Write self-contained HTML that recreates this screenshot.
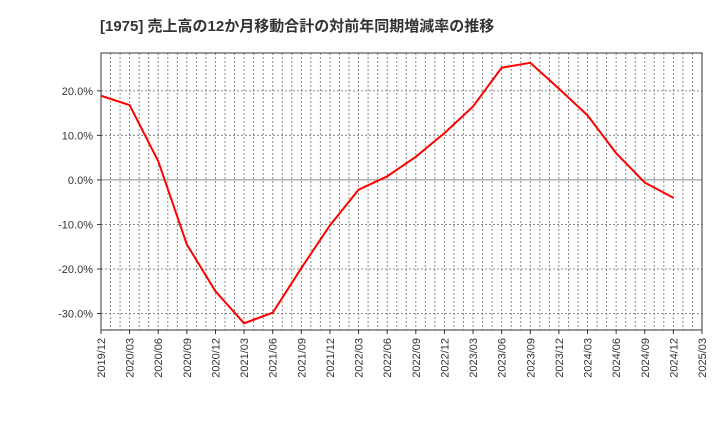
<!DOCTYPE html>
<html><head><meta charset="utf-8"><style>
body{margin:0;background:#fff;width:720px;height:440px;overflow:hidden;font-family:"Liberation Sans","Noto Sans CJK JP",sans-serif}
</style></head><body>
<svg id="c" width="720" height="440" xmlns="http://www.w3.org/2000/svg">
<text x="100" y="31" font-size="15" font-weight="bold" fill="#333" font-family="Liberation Sans, Noto Sans CJK JP, sans-serif">[1975]  売上高の12か月移動合計の対前年同期増減率の推移</text>
</svg>
<script>
const categories=["2019/12","2020/03","2020/06","2020/09","2020/12","2021/03","2021/06","2021/09","2021/12","2022/03","2022/06","2022/09","2022/12","2023/03","2023/06","2023/09","2023/12","2024/03","2024/06","2024/09","2024/12","2025/03"];
const values=[18.9,16.8,4.2,-14.5,-25.0,-32.2,-29.8,-19.8,-10.2,-2.2,0.8,5.2,10.5,16.5,25.2,26.3,20.5,14.5,6.0,-0.6,-4.0];
const yTicks=[-30,-20,-10,0,10,20];
const yTickLabels=["-30.0%","-20.0%","-10.0%","0.0%","10.0%","20.0%"];
const svg=document.getElementById('c');const NS="http://www.w3.org/2000/svg";
const L=101,R=702,T=53,B=330,yMin=-33.7,yMax=28.5;
const n=categories.length-1;
const x=i=>L+(R-L)*i/n;
const y=v=>B-(v-yMin)/(yMax-yMin)*(B-T);
function mk(t,a,name){const e=document.createElementNS(NS,t);for(const k in a)e.setAttribute(k,a[k]);


svg.appendChild(e);return e;}
for(let m=1;m<n*3;m++){const xx=L+(R-L)*m/(n*3);mk('line',{x1:xx,x2:xx,y1:T,y2:B,stroke:'#888','stroke-dasharray':'2,2','stroke-width':1},'v-grid-line');}
yTicks.forEach((v,i)=>{mk('line',{x1:L,x2:R,y1:y(v),y2:y(v),stroke:v===0?'#888':'#888','stroke-dasharray':v===0?'':'2,2','stroke-width':1},v===0?'zero-line':'h-grid-line');
const t=mk('text',{x:L-8,y:y(v)+4,'text-anchor':'end','font-size':11,fill:'#333'},'y-tick-label');t.textContent=yTickLabels[i];
mk('line',{x1:L-4,x2:L,y1:y(v),y2:y(v),stroke:'#333'},'y-tick');});
mk('rect',{x:L,y:T,width:R-L,height:B-T,fill:'none',stroke:'#333','stroke-width':1},'plot-frame');
categories.forEach((c,i)=>{mk('line',{x1:x(i),x2:x(i),y1:B,y2:B+4,stroke:'#333'},'x-tick');
const t=mk('text',{x:0,y:0,'text-anchor':'end','font-size':11,fill:'#333',transform:`translate(${x(i)+4},${B+8}) rotate(-90)`},'x-tick-label');t.textContent=c;});
mk('polyline',{points:values.map((v,i)=>x(i)+','+y(v)).join(' '),fill:'none',stroke:'#f00','stroke-width':2},'growth-rate-line');
</script>
</body></html>
